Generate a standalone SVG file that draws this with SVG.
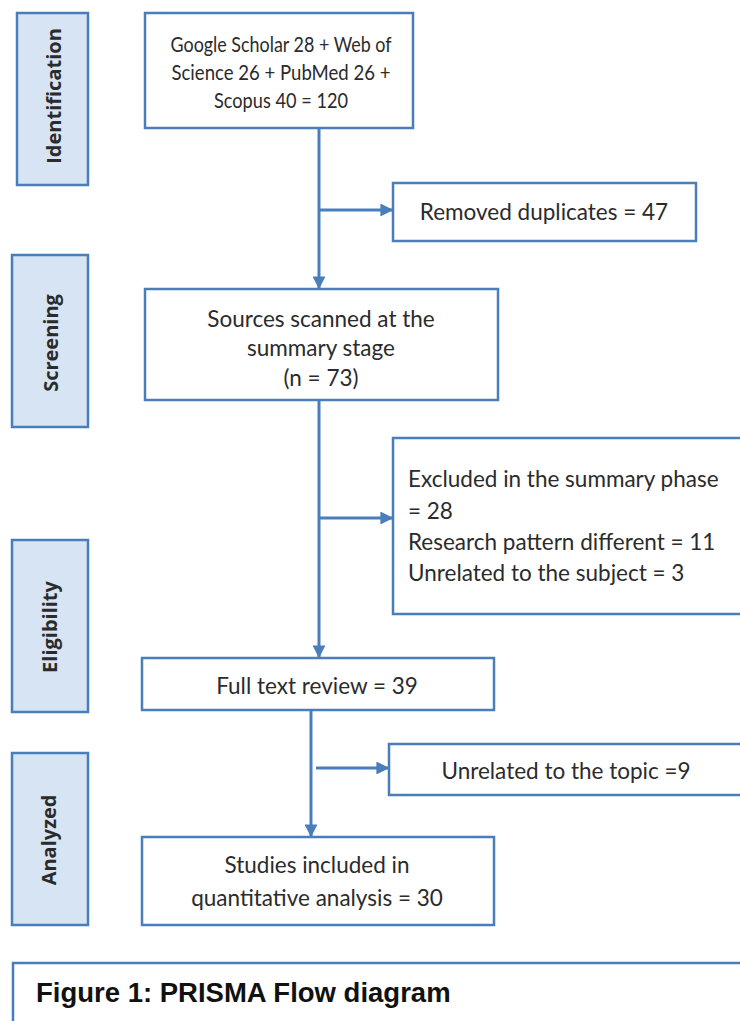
<svg xmlns="http://www.w3.org/2000/svg" width="740" height="1021" viewBox="0 0 740 1021">
<style>
.box{fill:#ffffff;stroke:#4a7ebb;stroke-width:2.5}
.side{fill:#d6e4f4;stroke:#4a7ebb;stroke-width:2.5}
.t{font-family:Lato,"Open Sans",sans-serif;font-size:22.5px;fill:#2b2b2b}
.t1{font-family:Lato,"Open Sans",sans-serif;font-size:21.5px;fill:#2b2b2b;text-anchor:middle}
.c{text-anchor:middle}
.s{font-family:"Open Sans",Lato,sans-serif;font-size:20px;font-weight:bold;fill:#2b2b2b;text-anchor:middle}
.cap{font-family:"Liberation Sans",Arial,sans-serif;font-size:27.5px;font-weight:bold;fill:#111}
.ln{fill:none;stroke:#4a7ebb;stroke-width:3}
</style>
<defs>
<marker id="ah" viewBox="0 0 10 10" refX="9" refY="5" markerWidth="4.3" markerHeight="4.3" orient="auto" markerUnits="strokeWidth">
<path d="M0,0 L10,5 L0,10 z" fill="#4a7ebb"/>
</marker>
</defs>
<rect width="740" height="1021" fill="#ffffff"/>
<g id="side-identification"><rect class="side" x="17" y="13" width="71" height="172"/><text class="s" transform="translate(61,96) rotate(-90)">Identification</text></g>
<g id="side-screening"><rect class="side" x="12" y="255" width="76" height="172"/><text class="s" transform="translate(58,343) rotate(-90)">Screening</text></g>
<g id="side-eligibility"><rect class="side" x="12" y="540" width="76" height="172"/><text class="s" transform="translate(57,627) rotate(-90)">Eligibility</text></g>
<g id="side-analyzed"><rect class="side" x="12" y="753" width="76" height="172"/><text class="s" transform="translate(56,840) rotate(-90)">Analyzed</text></g>
<g id="n-sources"><rect class="box" x="145" y="13" width="268" height="115"/>
<text class="t1" x="281" y="52" textLength="221" lengthAdjust="spacingAndGlyphs">Google Scholar 28 + Web of</text>
<text class="t1" x="281" y="80" textLength="219" lengthAdjust="spacingAndGlyphs">Science 26 + PubMed 26 +</text>
<text class="t1" x="281" y="108" textLength="134" lengthAdjust="spacingAndGlyphs">Scopus 40 = 120</text></g>
<g id="n-duplicates"><rect class="box" x="393" y="183" width="303" height="58"/>
<text class="t c" x="544" y="220">Removed duplicates = 47</text></g>
<g id="n-scanned"><rect class="box" x="145" y="289" width="353" height="111"/>
<text class="t c" x="321" y="327">Sources scanned at the</text>
<text class="t c" x="321" y="356">summary stage</text>
<text class="t c" x="321" y="386">(n = 73)</text></g>
<g id="n-excluded"><rect class="box" x="393" y="438" width="350" height="176"/>
<text class="t" x="408" y="487">Excluded in the summary phase</text>
<text class="t" x="408" y="519">= 28</text>
<text class="t" x="408" y="550">Research pattern different = 11</text>
<text class="t" x="408" y="581">Unrelated to the subject = 3</text></g>
<g id="n-fulltext"><rect class="box" x="142" y="658" width="352" height="52"/>
<text class="t c" x="317" y="694">Full text review = 39</text></g>
<g id="n-topic"><rect class="box" x="389" y="744" width="354" height="51"/>
<text class="t c" x="566" y="779">Unrelated to the topic =9</text></g>
<g id="n-included"><rect class="box" x="142" y="837" width="352" height="88"/>
<text class="t c" x="317" y="873">Studies included in</text>
<text class="t c" x="317" y="906">quantitative analysis = 30</text></g>
<g id="caption"><rect class="box" x="13" y="963" width="735" height="80"/>
<text class="cap" x="36" y="1002">Figure 1: PRISMA Flow diagram</text></g>
<g id="connectors">
<line class="ln" x1="319" y1="128" x2="319" y2="288" marker-end="url(#ah)"/>
<line class="ln" x1="319" y1="210" x2="392" y2="210" marker-end="url(#ah)"/>
<line class="ln" x1="319" y1="400" x2="319" y2="657" marker-end="url(#ah)"/>
<line class="ln" x1="319" y1="518" x2="392" y2="518" marker-end="url(#ah)"/>
<line class="ln" x1="311" y1="710" x2="311" y2="836" marker-end="url(#ah)"/>
<line class="ln" x1="316" y1="768" x2="388" y2="768" marker-end="url(#ah)"/>
</g>
</svg>
